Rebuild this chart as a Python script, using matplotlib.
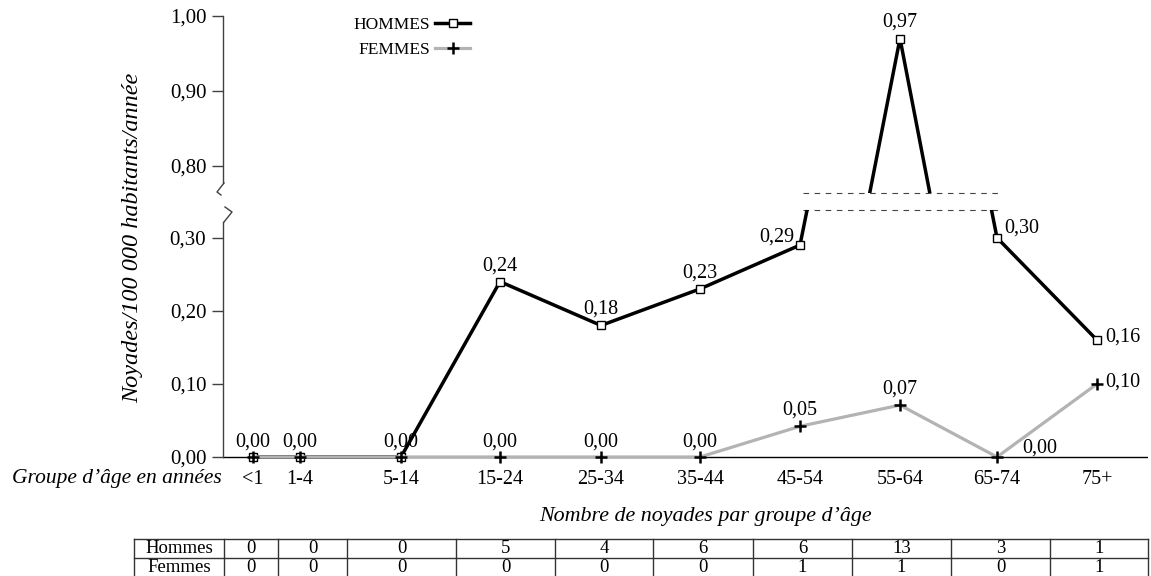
import matplotlib
matplotlib.use('Agg')
import matplotlib.pyplot as plt
from matplotlib.ticker import FuncFormatter
from matplotlib.legend import Legend

plt.rcParams['font.family'] = ['Liberation Serif', 'DejaVu Serif']

# Données
groupes = ['<1', '1-4', '5-14', '15-24', '25-34', '35-44', '45-54', '55-64', '65-74', '75+']
x_pos = [0.30, 0.77, 1.78, 2.77, 3.78, 4.77, 5.77, 6.77, 7.74, 8.74]
hommes = [0, 0, 0, 0.24, 0.18, 0.23, 0.29, 0.97, 0.30, 0.16]
femmes = [0, 0, 0, 0, 0, 0, 0.042, 0.071, 0, 0.10]
hommes_txt = ['0,00', '0,00', '0,00', '0,24', '0,18', '0,23', '0,29', '0,97', '0,30', '0,16']
femmes_txt = ['', '', '', '0,00', '0,00', '0,00', '0,05', '0,07', '0,00', '0,10']
nb_hommes = [0, 0, 0, 5, 4, 6, 6, 13, 3, 1]
nb_femmes = [0, 0, 0, 0, 0, 0, 1, 1, 0, 1]

W, H = 1151, 576
fig = plt.figure(figsize=(W / 100, H / 100), dpi=100)


def box(left, top, right, bottom):
    # rectangle en pixels -> coordonnées figure
    return [left / W, 1 - bottom / H, (right - left) / W, (bottom - top) / H]


ymin_bas = -0.012
ax_haut = fig.add_axes(box(223, 16, 1148, 193))
ax_bas = fig.add_axes(box(223, 210, 1148, 457 - ymin_bas * 730))
ax_haut.set_ylim(0.764, 1.0)
ax_bas.set_ylim(ymin_bas, 0.338)

virgule = FuncFormatter(lambda v, p: f'{v:.2f}'.replace('.', ','))
for ax in (ax_haut, ax_bas):
    ax.set_xlim(0, 9.25)
    for s in ('top', 'right', 'bottom'):
        ax.spines[s].set_visible(False)
    ax.spines['left'].set_color('#404040')
    ax.spines['left'].set_linewidth(1)
    ax.tick_params(axis='y', direction='out', length=8, width=1, pad=4,
                   labelsize=15, color='#404040')
    ax.yaxis.set_major_formatter(virgule)
    ax.patch.set_visible(False)
    ax.plot(x_pos, hommes, color='black', lw=2.5, marker='s', ms=6,
            mfc='white', mec='black', mew=1, zorder=3, label='HOMMES')
    ax.plot(x_pos, femmes, color='#b3b3b3', lw=2.3, marker='+', ms=9,
            mec='black', mew=1.8, zorder=4, label='FEMMES')

ax_haut.set_yticks([0.8, 0.9, 1.0])
ax_bas.set_yticks([0, 0.1, 0.2, 0.3])
ax_haut.spines['left'].set_bounds(0.777, 1.0)
ax_bas.spines['left'].set_bounds(0, 0.322)
ax_haut.set_xticks([])
ax_bas.set_xticks(x_pos)
ax_bas.set_xticklabels(groupes)
ax_bas.tick_params(axis='x', length=0, pad=3, labelsize=14.5)
ax_bas.axhline(0, color='black', lw=1, zorder=2)

# lignes pointillées de la coupure
x0, x1 = (803 - 223) / 925, (1000 - 223) / 925
ax_haut.axhline(0.764, x0, x1, color='#444444', lw=0.8, ls=(0, (5, 5)), clip_on=False)
ax_bas.axhline(0.338, x0, x1, color='#444444', lw=0.8, ls=(0, (5, 5)), clip_on=False)

# étiquettes des valeurs
decal_h = {6: (-4, 6, 'right'), 8: (5, 7, 'left'), 9: (6, 2, 'left')}
decal_f = {8: (18, 6.5, 'left'), 9: (6, 1, 'left')}
for serie, textes, decal in ((hommes, hommes_txt, decal_h), (femmes, femmes_txt, decal_f)):
    for i, (x, y, t) in enumerate(zip(x_pos, serie, textes)):
        if not t:
            continue
        dx, dy, ha = decal.get(i, (0, 11.5 if y > 0 else 10.5, 'center'))
        ax = ax_haut if y > 0.5 else ax_bas
        ax.annotate(t, (x, y), xytext=(dx, dy), textcoords='offset points',
                    ha=ha, va='center', fontsize=14.5, annotation_clip=False)

# légende (textes alignés à droite)
for ligne, yl in zip(ax_haut.get_lines(), (25, 50)):
    leg = Legend(ax_haut, [ligne], [ligne.get_label()], loc='center right',
                 bbox_to_anchor=(470 / W, 1 - yl / H), bbox_transform=fig.transFigure,
                 frameon=False, markerfirst=False, fontsize=12.5,
                 handlelength=2.0, handletextpad=0.3, borderpad=0, borderaxespad=0)
    ax_haut.add_artist(leg)

# surcouche en pixels : coupure de l'axe, tableau
ov = fig.add_axes([0, 0, 1, 1])
ov.set_xlim(0, W)
ov.set_ylim(H, 0)
ov.axis('off')
ov.patch.set_visible(False)
ov.plot([224, 217, 221], [183, 192, 195], color='#404040', lw=1)
ov.plot([225, 232, 224], [207, 212, 222], color='#404040', lw=1)

fig.text(133 / W, 1 - 238 / H, 'Noyades/100 000 habitants/année', rotation=90,
         style='italic', fontsize=17.5, ha='center', va='center')
fig.text(222 / W, 1 - 479 / H, 'Groupe d’âge en années', style='italic',
         fontsize=15.5, ha='right', va='center')
fig.text(705 / W, 1 - 517 / H, 'Nombre de noyades par groupe d’âge', style='italic',
         fontsize=15.8, ha='center', va='center')

bords = [134, 224, 278, 347, 456, 555, 653, 753, 852, 951, 1050, 1148]
rangs = [539, 558, 577]
for yb in rangs:
    ov.plot([bords[0], bords[-1]], [yb, yb], color='#333333', lw=1)
for xb in bords:
    ov.plot([xb, xb], [rangs[0], rangs[-1]], color='#333333', lw=1)
lignes_tab = [['Hommes'] + nb_hommes, ['Femmes'] + nb_femmes]
for r, ligne in enumerate(lignes_tab):
    yc = (rangs[r] + rangs[r + 1]) / 2
    for c, val in enumerate(ligne):
        xc = (bords[c] + bords[c + 1]) / 2
        ov.text(xc, yc, str(val), ha='center', va='center', fontsize=13.5)

fig.savefig('out.png', dpi=100)
